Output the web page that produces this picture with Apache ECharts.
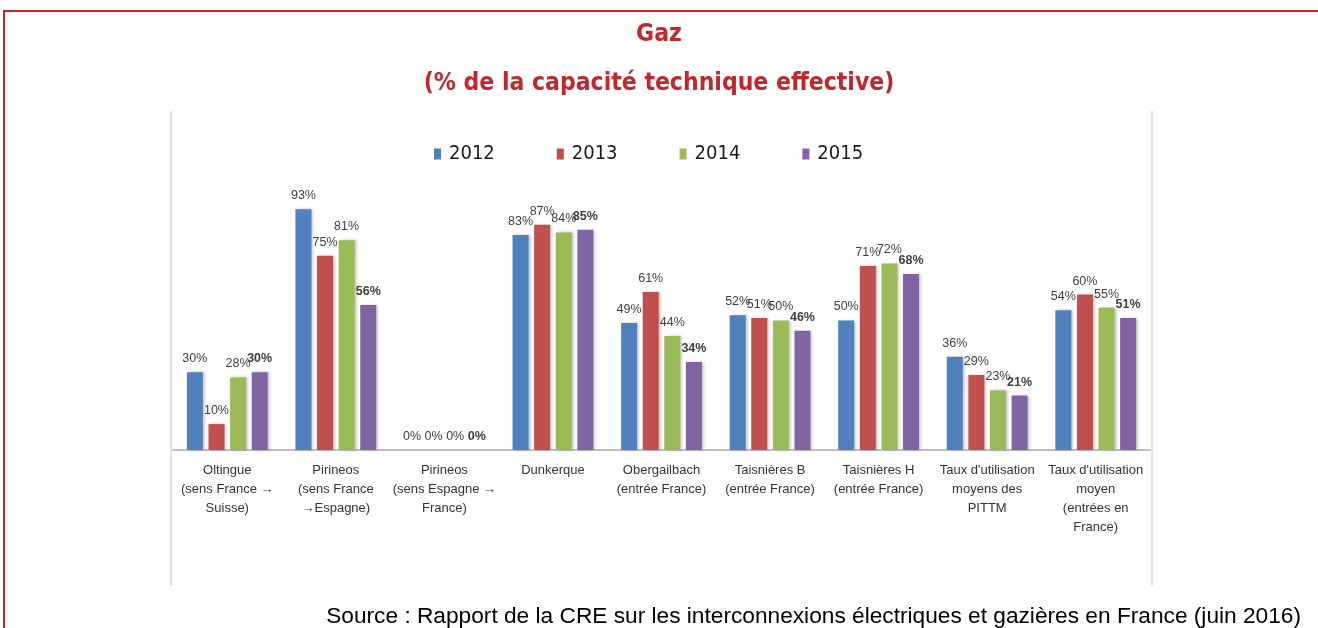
<!DOCTYPE html>
<html lang="fr">
<head>
<meta charset="UTF-8">
<title>Gaz</title>
<style>
  html, body { margin: 0; padding: 0; width: 100%; height: 100%; background: #fff; }
  #main { width: 1318px; height: 628px; }
</style>
</head>
<body>
<div id="main"></div>
<script src="https://cdn.jsdelivr.net/npm/echarts@6/dist/echarts.min.js"></script>
<script>
// categories (interconnexions)
var categories = [
    'Oltingue\n(sens France →\nSuisse)',
    'Pirineos\n(sens France\n→Espagne)',
    'Pirineos\n(sens Espagne →\nFrance)',
    'Dunkerque',
    'Obergailbach\n(entrée France)',
    'Taisnières B\n(entrée France)',
    'Taisnières H\n(entrée France)',
    "Taux d'utilisation\nmoyens des\nPITTM",
    "Taux d'utilisation\nmoyen\n(entrées en\nFrance)"
];
var years = ['2012', '2013', '2014', '2015'];
// valeurs en % de la capacité technique effective
var v2012 = [30, 93, 0, 83, 49, 52, 50, 36, 54];
var v2013 = [10, 75, 0, 87, 61, 51, 71, 29, 60];
var v2014 = [28, 81, 0, 84, 44, 50, 72, 23, 55];
var v2015 = [30, 56, 0, 85, 34, 46, 68, 21, 51];
var colors = ['#4f81bd', '#c0504d', '#9bbb59', '#8064a2'];

var frameRed = '#c1272d';
var narrow = "'Liberation Sans Narrow', 'DejaVu Sans Condensed', 'Liberation Sans', sans-serif";

function makeSeries(name, values, i) {
    return {
        name: name,
        type: 'bar',
        data: values,
        barWidth: 16,
        barGap: '35%',
        itemStyle: {
            color: colors[i],
            shadowColor: 'rgba(0,0,0,0.25)',
            shadowBlur: 3,
            shadowOffsetX: 2,
            shadowOffsetY: 0
        },
        label: {
            show: true,
            position: 'top',
            distance: 7,
            formatter: '{c}%',
            fontFamily: "'Liberation Sans', sans-serif",
            fontSize: 12.5,
            fontWeight: i === 3 ? 'bold' : 'normal',
            color: '#404040'
        }
    };
}

var option = {
    backgroundColor: '#ffffff',
    animation: false,
    title: [{
        text: 'Gaz',
        left: 'center',
        top: 17,
        textStyle: { fontFamily: narrow, fontWeight: 'bold', fontSize: 24.5, color: frameRed }
    }, {
        text: '(% de la capacité technique effective)',
        left: 'center',
        top: 66,
        textStyle: { fontFamily: narrow, fontWeight: 'bold', fontSize: 24.5, color: frameRed }
    }, {
        text: 'Source : Rapport de la CRE sur les interconnexions électriques et gazières en France (juin 2016)',
        right: 12,
        top: 600,
        textStyle: { fontFamily: "'Liberation Sans', Arial, sans-serif", fontWeight: 'normal', fontSize: 22.7, color: '#000' }
    }],
    legend: {
        data: years,
        top: 144,
        left: 434,
        padding: 0,
        itemWidth: 7,
        itemHeight: 11,
        itemGap: 62,
        icon: 'rect',
        textStyle: { fontFamily: narrow, fontSize: 20, color: '#1a1a1a', padding: [0, 0, 0, 3] }
    },
    grid: { left: 173, right: 168, top: 191, bottom: 178 },
    xAxis: {
        type: 'category',
        data: categories,
        axisLine: { lineStyle: { color: '#bfbfbf', width: 2 } },
        axisTick: { show: false },
        axisLabel: {
            interval: 0,
            margin: 11,
            fontFamily: "'Liberation Sans', sans-serif",
            fontSize: 13,
            lineHeight: 19,
            color: '#333'
        }
    },
    yAxis: {
        type: 'value',
        min: 0,
        max: 100,
        show: false,
        splitLine: { show: false }
    },
    series: [
        makeSeries(years[0], v2012, 0),
        makeSeries(years[1], v2013, 1),
        makeSeries(years[2], v2014, 2),
        makeSeries(years[3], v2015, 3)
    ],
    graphic: [
        // cadre rouge
        { type: 'line', shape: { x1: 3, y1: 11, x2: 1318, y2: 11 }, style: { stroke: frameRed, lineWidth: 2 } },
        { type: 'line', shape: { x1: 4, y1: 11, x2: 4, y2: 628 }, style: { stroke: frameRed, lineWidth: 2 } },
        // bords gris du graphique
        { type: 'line', shape: { x1: 171, y1: 111, x2: 171, y2: 586 }, style: { stroke: '#d9d9d9', lineWidth: 1.5 } },
        { type: 'line', shape: { x1: 1152, y1: 111, x2: 1152, y2: 586 }, style: { stroke: '#d9d9d9', lineWidth: 1.5 } }
    ]
};

var myChart = echarts.init(document.getElementById('main'));
myChart.setOption(option);
</script>
</body>
</html>
